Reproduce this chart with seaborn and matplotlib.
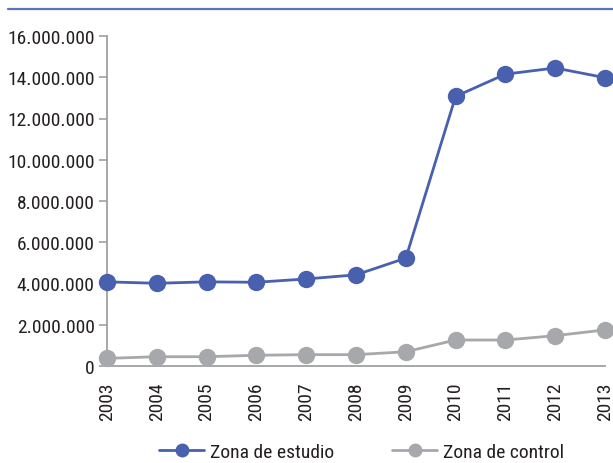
import numpy as np
import pandas as pd
import matplotlib
matplotlib.use("Agg")
import matplotlib.pyplot as plt
from matplotlib.lines import Line2D
import seaborn as sns

years = [2003, 2004, 2005, 2006, 2007, 2008, 2009, 2010, 2011, 2012, 2013]
estudio = [4.08e6, 4.01e6, 4.08e6, 4.06e6, 4.22e6, 4.42e6, 5.23e6, 13.07e6, 14.15e6, 14.45e6, 13.98e6]
control = [0.37e6, 0.45e6, 0.45e6, 0.52e6, 0.55e6, 0.55e6, 0.69e6, 1.26e6, 1.26e6, 1.47e6, 1.75e6]
series_names = ["Zona de estudio", "Zona de control"]
yticks = [0, 2e6, 4e6, 6e6, 8e6, 10e6, 12e6, 14e6, 16e6]
ytick_labels = ["0", "2.000.000", "4.000.000", "6.000.000", "8.000.000",
                "10.000.000", "12.000.000", "14.000.000", "16.000.000"]

blue = "#4860AE"
grey = "#A7A8AB"
txt = "#231F20"

sns.set_theme(style="white")
plt.rcParams["font.family"] = ["Roboto Condensed", "DejaVu Sans"]

df = pd.DataFrame({
    "year": years * 2,
    "value": estudio + control,
    "serie": [series_names[0]] * len(years) + [series_names[1]] * len(years),
})

fig = plt.figure(figsize=(6.13, 4.64), dpi=100)
ax = fig.add_axes([107/613, 1 - 367/464, (605-107)/613, (367-37)/464])

sns.lineplot(data=df, x="year", y="value", hue="serie",
             palette={series_names[0]: blue, series_names[1]: grey},
             marker="o", markersize=12.5, markeredgewidth=0, linewidth=2.0,
             ax=ax, legend=False, zorder=3)
for line in ax.lines:
    line.set_clip_on(False)

ax.set_xlim(2003, 2013)
ax.set_ylim(0, 16e6)
ax.set_yticks(yticks)
ax.set_yticklabels(ytick_labels, fontsize=14, color=txt)
ax.set_xticks(years)
ax.set_xticklabels([str(y) for y in years], rotation=90, fontsize=14, color=txt)
ax.set_xticks(np.linspace(2003, 2013, 13), minor=True)
ax.tick_params(axis="x", which="major", length=0, pad=11)
ax.tick_params(axis="x", which="minor", length=8, width=1.2, color="#A0A0A0", direction="out")
ax.tick_params(axis="y", which="major", length=6, width=1.2, color="#A0A0A0", direction="out", pad=3, left=True)
ax.set_xlabel("")
ax.set_ylabel("")

for s in ["top", "right"]:
    ax.spines[s].set_visible(False)
for s in ["left", "bottom"]:
    ax.spines[s].set_color("#A0A0A0")
    ax.spines[s].set_linewidth(1.3)

handles = [Line2D([0], [0], color=blue, lw=2.0, marker="o", markersize=10, markeredgewidth=0),
           Line2D([0], [0], color=grey, lw=2.0, marker="o", markersize=10, markeredgewidth=0)]
fig.legend(handles, series_names, loc="center", bbox_to_anchor=(0.59, 1 - 453/464),
           ncol=2, frameon=False, fontsize=14, handlelength=2.3, columnspacing=3.0,
           handletextpad=0.3, labelcolor=txt)

fig.add_artist(Line2D([8/613, 1.0], [1 - 10/464, 1 - 10/464], color="#5A74C0", lw=1.6,
                      transform=fig.transFigure))

fig.savefig("out.png", dpi=100)
